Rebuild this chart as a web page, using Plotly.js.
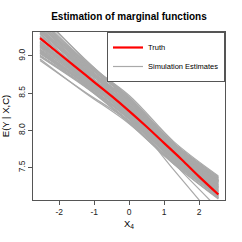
<!DOCTYPE html>
<html>
<head>
<meta charset="utf-8">
<script src="https://cdn.plot.ly/plotly-3.0.1.min.js"></script>
<style>html,body{margin:0;padding:0;background:#fff;}#chart{width:242px;height:242px;}</style>
</head>
<body>
<div id="chart"></div>
<script>
// Truth curve
var truthX = [-2.55, -2, -1.5, -1, -0.5, 0, 0.5, 1, 1.5, 2, 2.55];
var truthY = [9.24, 9.03, 8.84, 8.65, 8.46, 8.26, 8.05, 7.83, 7.61, 7.38, 7.14];

// Simulation estimates (values at knot positions)
var simX = [-2.55, -1.275, 0, 1.275, 2.55];
var simEstimates = [
  [9.51, 8.94, 8.45, 7.83, 7.38],
  [9.48, 8.92, 8.47, 7.85, 7.39],
  [9.44, 8.91, 8.42, 7.81, 7.36],
  [9.46, 8.88, 8.39, 7.83, 7.34],
  [9.41, 8.89, 8.43, 7.79, 7.32],
  [9.38, 8.84, 8.37, 7.80, 7.35],
  [9.36, 8.86, 8.35, 7.77, 7.29],
  [9.34, 8.80, 8.38, 7.75, 7.31],
  [9.32, 8.82, 8.32, 7.78, 7.26],
  [9.29, 8.77, 8.34, 7.73, 7.28],
  [9.27, 8.79, 8.29, 7.76, 7.24],
  [9.24, 8.75, 8.31, 7.71, 7.25],
  [9.22, 8.76, 8.27, 7.74, 7.22],
  [9.19, 8.72, 8.28, 7.69, 7.23],
  [9.17, 8.74, 8.24, 7.72, 7.20],
  [9.15, 8.70, 8.25, 7.67, 7.21],
  [9.13, 8.71, 8.21, 7.70, 7.18],
  [9.11, 8.67, 8.23, 7.65, 7.19],
  [9.09, 8.68, 8.19, 7.68, 7.16],
  [9.07, 8.65, 8.20, 7.63, 7.17],
  [9.05, 8.63, 8.17, 7.66, 7.14],
  [9.03, 8.64, 8.15, 7.61, 7.15],
  [9.01, 8.61, 8.16, 7.59, 7.12],
  [8.99, 8.59, 8.13, 7.62, 7.10],
  [9.08, 8.62, 8.11, 7.57, 7.13],
  [9.04, 8.60, 8.10, 7.55, 7.09],
  [9.31, 8.73, 8.18, 7.64, 7.27],
  [9.42, 8.83, 8.40, 7.72, 7.33],
  [9.12, 8.81, 8.41, 7.79, 7.30],
  [9.39, 8.93, 8.33, 7.82, 7.37],
  [8.94, 8.52, 8.12, 7.57, 7.11],
  [8.96, 8.51, 8.09, 7.55, 7.08],
  [9.14, 8.69, 8.19, 7.47, 6.76],
  [9.26, 8.72, 8.22, 7.56, 6.95],
  [9.34, 8.79, 8.25, 7.62, 7.10],
  [9.54, 8.96, 8.39, 7.69, 7.09],
  [9.57, 8.96, 8.42, 7.77, 7.32],
  [9.49, 8.93, 8.44, 7.82, 7.36],
  [9.45, 8.90, 8.41, 7.80, 7.33],
  [9.40, 8.87, 8.39, 7.78, 7.31],
  [9.35, 8.83, 8.36, 7.76, 7.29],
  [9.30, 8.81, 8.34, 7.74, 7.27],
  [9.25, 8.78, 8.32, 7.72, 7.25],
  [9.20, 8.75, 8.30, 7.71, 7.23],
  [9.16, 8.72, 8.27, 7.69, 7.21],
  [9.12, 8.69, 8.24, 7.67, 7.19],
  [9.08, 8.66, 8.21, 7.65, 7.17],
  [9.04, 8.63, 8.18, 7.62, 7.15],
  [9.00, 8.60, 8.15, 7.59, 7.12],
  [9.33, 8.85, 8.40, 7.79, 7.34],
  [9.43, 8.86, 8.31, 7.75, 7.32],
  [9.14, 8.76, 8.33, 7.77, 7.32],
  [9.06, 8.64, 8.23, 7.70, 7.24],
  [9.37, 8.79, 8.26, 7.63, 7.18],
  [9.18, 8.67, 8.19, 7.61, 7.13]
];

var xTickVals = [-2, -1, 0, 1, 2];
var xTickText = ["-2", "-1", "0", "1", "2"];
var yTickVals = [7.5, 8.0, 8.5, 9.0];
var yTickText = ["7.5", "8.0", "8.5", "9.0"];

var titleText = "Estimation of marginal functions";
var xTitle = "X<sub>4</sub>";
var yTitle = "E(Y | X,C)";
var truthName = "Truth";
var simName = "Simulation Estimates";

var FONT = "Liberation Sans, Arial, Helvetica, sans-serif";
var traces = [];
simEstimates.forEach(function (row, i) {
  traces.push({
    x: simX, y: row, type: "scatter", mode: "lines",
    line: {color: "#a9a9a9", width: 1.2, shape: "spline", smoothing: 1},
    name: simName, legendgroup: "sim", showlegend: i === 0,
    legendrank: 2, hoverinfo: "skip"
  });
});
traces.push({
  x: truthX, y: truthY, type: "scatter", mode: "lines",
  line: {color: "#ff0000", width: 2.2, shape: "spline"},
  name: truthName, legendrank: 1, hoverinfo: "skip"
});

var axisCommon = {
  showline: true, mirror: true, linecolor: "#555", linewidth: 1,
  ticks: "outside", ticklen: 4, tickcolor: "#555", tickwidth: 1,
  showgrid: false, zeroline: false, tickfont: {size: 8.5, color: "#222"},
  automargin: false, fixedrange: true
};

var layout = {
  width: 242, height: 242,
  margin: {l: 33, r: 17, t: 32, b: 42, pad: 0},
  paper_bgcolor: "#fff", plot_bgcolor: "#fff",
  font: {family: FONT, color: "#000"},
  title: {text: "<b>" + titleText + "</b>", font: {size: 10, color: "#000"},
          x: 0.5, xref: "paper", y: 1 - 16.5 / 242, yref: "container", yanchor: "middle"},
  xaxis: Object.assign({}, axisCommon, {
    range: [-2.75, 2.74], tickvals: xTickVals, ticktext: xTickText,
    title: {text: xTitle, font: {size: 9.5, color: "#000"}, standoff: 4}
  }),
  yaxis: Object.assign({}, axisCommon, {
    range: [7.066, 9.322], tickvals: yTickVals, ticktext: yTickText, tickangle: -90,
    title: {text: yTitle, font: {size: 9.5, color: "#000"}, standoff: 7}
  }),
  showlegend: true,
  legend: {
    x: 1, xanchor: "right", y: 1, yanchor: "top",
    bgcolor: "#fff", bordercolor: "#555", borderwidth: 1,
    font: {size: 7.5, color: "#000", family: FONT}, tracegroupgap: 0, itemwidth: 30,
    traceorder: "normal"
  }
};

Plotly.newPlot("chart", traces, layout, {staticPlot: true, displayModeBar: false});
</script>
</body>
</html>
